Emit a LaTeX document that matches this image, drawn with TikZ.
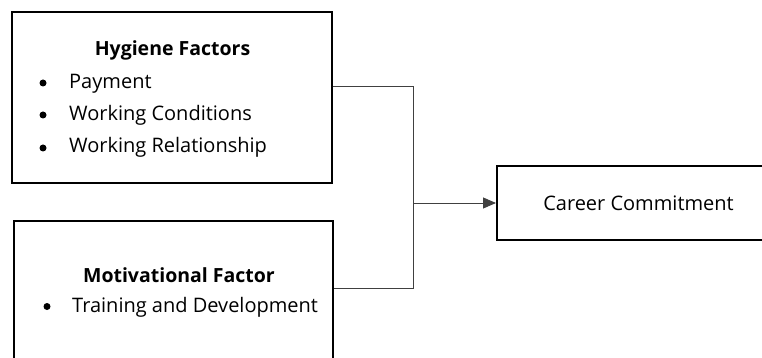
\documentclass[tikz,border=0pt]{standalone}
\usepackage{fontspec}
\setmainfont{Open Sans}
\usetikzlibrary{arrows.meta}

\tikzset{
  factorbox/.style={draw=black, line width=2pt, inner sep=0pt},
  itemtext/.style={anchor=base west, inner sep=0pt, font=\fontsize{20}{24}\selectfont},
  headtext/.style={anchor=base, inner sep=0pt, font=\fontsize{19.5}{24}\selectfont\bfseries},
  bulletmark/.style={circle, fill=black, inner sep=0pt, minimum size=7pt},
  wire/.style={draw=black!75, line width=1pt},
  pointer/.style={wire, -{Triangle[length=13pt,width=11pt]}}
}

\begin{document}
\begin{tikzpicture}[x=1pt,y=-1pt]
\useasboundingbox (0,0) rectangle (762,358);
%The two factor boxes on the left, the outcome box on the right
% (the lower box and the right box run off the page edge)
\node[factorbox, minimum width=320pt, minimum height=171pt] (hyg) at (172,97.5) {};
\node[factorbox, minimum width=319pt, minimum height=159pt] (mot) at (173.5,300.5) {};
\node[factorbox, minimum width=283pt, minimum height=73pt,
      font=\fontsize{20}{24}\selectfont] (career) at (638.5,203) {Career Commitment};

%Hygiene factors: heading and the three items
\node[headtext] (hygtitle) at (172.5,56) {Hygiene Factors};
\node[bulletmark] (b1) at (43,83) {};
\node[itemtext] (pay) at (69,88.5) {Payment};
\node[bulletmark] (b2) at (43,115) {};
\node[itemtext] (cond) at (69,120.5) {Working Conditions};
\node[bulletmark] (b3) at (43,148) {};
\node[itemtext] (rel) at (69,153) {Working Relationship};

%Motivational factor: heading and its one item
\node[headtext] (mottitle) at (179,282) {Motivational Factor};
\node[bulletmark] (b4) at (47,306.5) {};
\node[itemtext] (train) at (72,312) {Training and Development};

%Join the two boxes and feed the outcome
\coordinate (mid) at (413,203);
\draw[wire] ([yshift=10.5pt]hyg.east) -| (mid);
\draw[wire] ([yshift=12.5pt]mot.east) -| (mid);
\draw[pointer] (mid) -- (career.west);
\end{tikzpicture}
\end{document}
